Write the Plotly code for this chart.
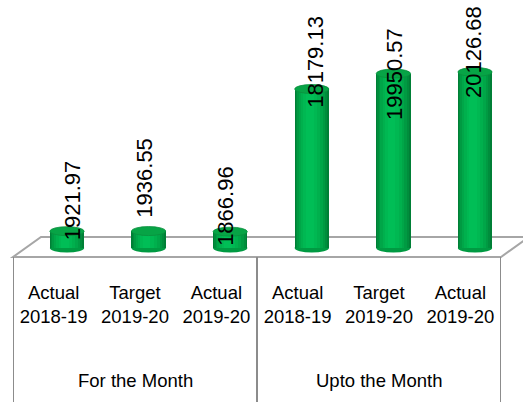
import plotly.graph_objects as go

# ---- data ----
groups = ["For the Month", "For the Month", "For the Month",
          "Upto the Month", "Upto the Month", "Upto the Month"]
kinds = ["Actual", "Target", "Actual", "Actual", "Target", "Actual"]
years = ["2018-19", "2019-20", "2019-20", "2018-19", "2019-20", "2019-20"]
values = [1921.97, 1936.55, 1866.96, 18179.13, 19950.57, 20126.68]
group_names = ["For the Month", "Upto the Month"]

# ---- styling / layout constants ----
W, H = 523, 402
FONT = "Liberation Sans"
label_xshift = [5, -5, -5, 3, 1, -2]
label_yshift = [31, 53, 26, 27, 0, 20]
bar_w = 0.42
floor_front_y, floor_back_y = 257, 237
floor_front_x = (13, 501)
floor_depth_dx = 28

def px_x(p):
    return p / W

def px_y(p):
    return 1 - p / H

pos = list(range(len(values)))
ticktext = [f"{k}<br>{y}" for k, y in zip(kinds, years)]

fig = go.Figure()

# cylinder body as layered bars (dark edges, bright centre)
layers = [
    (1.00, 0.000, "#007F36"),
    (0.92, -0.004, "#008D3C"),
    (0.82, -0.008, "#009A42"),
    (0.70, -0.012, "#00A648"),
    (0.56, -0.016, "#00B04D"),
    (0.40, -0.020, "#00B852"),
    (0.22, -0.024, "#00BE56"),
]
for frac, sh, col in layers:
    w = bar_w * frac
    fig.add_trace(go.Bar(
        x=pos, y=values, width=w, offset=-w / 2 + sh,
        marker=dict(color=col, line=dict(width=0)),
        xaxis="x", yaxis="y", hoverinfo="skip", showlegend=False,
    ))

# invisible helper trace for label axis
fig.add_trace(go.Scatter(x=pos, y=[0] * len(pos), xaxis="x2", yaxis="y2",
                         mode="markers", marker=dict(opacity=0),
                         hoverinfo="skip", showlegend=False))

shapes = []
# floor parallelogram
fx0, fx1 = floor_front_x
shapes.append(dict(
    type="path", xref="paper", yref="paper", layer="below",
    path=(f"M {px_x(fx0)},{px_y(floor_front_y)} L {px_x(fx1)},{px_y(floor_front_y)} "
          f"L {px_x(fx1 + floor_depth_dx)},{px_y(floor_back_y)} "
          f"L {px_x(fx0 + floor_depth_dx)},{px_y(floor_back_y)} Z"),
    line=dict(color="#A6A6A6", width=2), fillcolor="rgba(0,0,0,0)",
))
# cylinder caps
for i, v in zip(pos, values):
    shapes.append(dict(type="circle", xref="x", yref="y", layer="below",
                       x0=i - bar_w / 2, x1=i + bar_w / 2,
                       ysizemode="pixel", yanchor=0, y0=-4.5, y1=4.5,
                       fillcolor="#009A42", line=dict(width=0)))
    shapes.append(dict(type="circle", xref="x", yref="y", layer="above",
                       x0=i - bar_w / 2, x1=i + bar_w / 2,
                       ysizemode="pixel", yanchor=v, y0=-4.5, y1=4.5,
                       fillcolor="#07A446", line=dict(color="#0A8F3E", width=0.8)))
# group dividers on the label axis
bounds = [-0.5]
for gname in group_names:
    bounds.append(bounds[-1] + groups.count(gname))
for b in bounds:
    shapes.append(dict(type="line", xref="x2", yref="paper",
                       x0=b, x1=b, y0=px_y(floor_front_y), y1=0,
                       line=dict(color="#8C8C8C", width=2)))

annotations = []
for i, v, dx, dy in zip(pos, values, label_xshift, label_yshift):
    annotations.append(dict(x=i, y=v, xref="x", yref="y", text=f"{v:.2f}",
                            textangle=-90, showarrow=False,
                            xanchor="center", yanchor="middle",
                            xshift=dx, yshift=dy,
                            font=dict(family=FONT, size=22, color="#000000")))
for gi, gname in enumerate(group_names):
    centre = (bounds[gi] + bounds[gi + 1]) / 2
    annotations.append(dict(x=centre, y=px_y(380), xref="x2", yref="paper",
                            text=gname, showarrow=False,
                            xanchor="center", yanchor="middle",
                            font=dict(family=FONT, size=18.5, color="#000000")))

x_lo = (0 - 67) / 81.6
x_hi = (W - 67) / 81.6
scale = 176 / max(values)
y_hi = 248 / scale
y_lo = -(H - 248) / scale

fig.update_layout(
    width=W, height=H,
    margin=dict(l=0, r=0, t=0, b=0),
    paper_bgcolor="white", plot_bgcolor="rgba(0,0,0,0)",
    barmode="overlay", bargap=0,
    showlegend=False,
    font=dict(family=FONT, size=18.5, color="#000000"),
    xaxis=dict(domain=[0, 1], range=[x_lo, x_hi], visible=False, fixedrange=True),
    yaxis=dict(domain=[0, 1], range=[y_lo, y_hi], visible=False, fixedrange=True),
    xaxis2=dict(domain=[px_x(fx0), px_x(fx1)], range=[-0.5, len(values) - 0.5],
                anchor="y2", tickvals=pos, ticktext=ticktext,
                showgrid=False, zeroline=False, showline=False, ticks="",
                ticklabelstandoff=22,
                tickfont=dict(family=FONT, size=18.5, color="#000000")),
    yaxis2=dict(domain=[px_y(floor_front_y), 1], anchor="x2", visible=False,
                range=[0, 1]),
    shapes=shapes, annotations=annotations,
)

fig.write_html("out.html", config={"displayModeBar": False},
               post_script="document.body.style.margin='0px';")
